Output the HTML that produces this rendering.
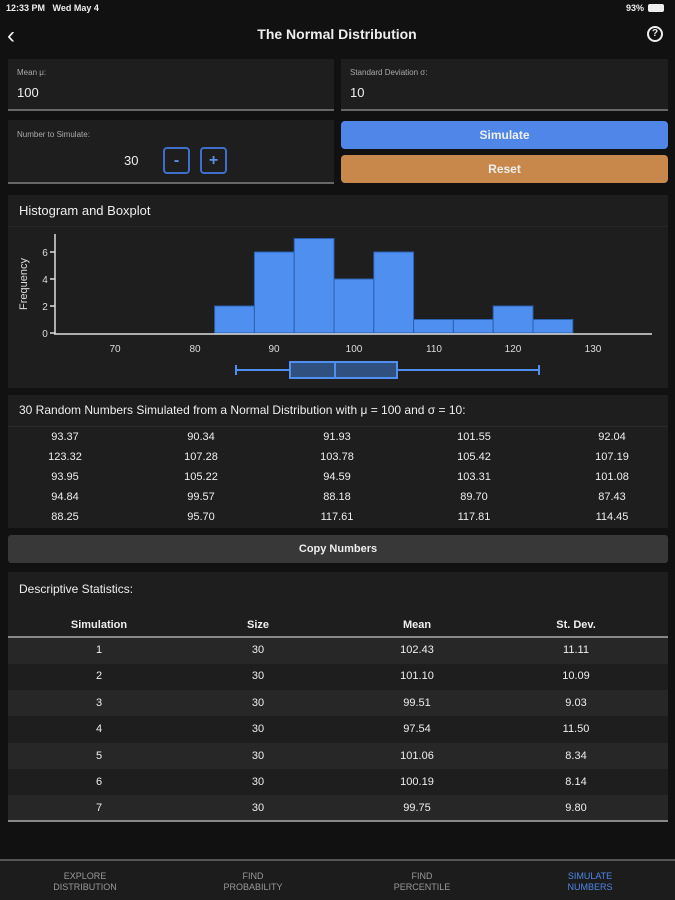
<!DOCTYPE html><html><head><meta charset="utf-8"><style>
*{margin:0;padding:0;box-sizing:border-box}
body{width:675px;height:900px;background:#111;font-family:"Liberation Sans",sans-serif;color:#eee;position:relative;overflow:hidden}
.a{position:absolute}
.card{position:absolute;background:#1e1e1e}
.c{position:absolute;text-align:center;transform:translateX(-50%);white-space:nowrap}
.sm{font-size:11px}
</style></head><body>
<div class="a" style="left:6px;top:3px;font-size:9px;font-weight:bold">12:33 PM&nbsp;&nbsp; Wed May 4</div>
<div class="a" style="left:626px;top:3px;font-size:9px;font-weight:bold">93%</div>
<div class="a" style="left:648px;top:4px;width:16px;height:8px;background:#eee;border-radius:2px"></div>
<div class="a" style="left:7px;top:22px;font-size:24px;color:#eee">‹</div>
<div class="c" style="left:337px;top:26px;font-size:14px;font-weight:bold">The Normal Distribution</div>
<div class="a" style="left:647px;top:26px;width:16px;height:16px;border:2px solid #eee;border-radius:50%;font-size:10px;font-weight:bold;text-align:center;line-height:12px">?</div>

<div class="card" style="left:8px;top:59px;width:326px;height:52px;border-bottom:2px solid #666"></div>
<div class="a" style="left:17px;top:68px;font-size:8px;color:#aaa">Mean μ:</div>
<div class="a" style="left:17px;top:85px;font-size:13px">100</div>
<div class="card" style="left:341px;top:59px;width:327px;height:52px;border-bottom:2px solid #666"></div>
<div class="a" style="left:350px;top:68px;font-size:8px;color:#aaa">Standard Deviation σ:</div>
<div class="a" style="left:350px;top:85px;font-size:13px">10</div>

<div class="card" style="left:8px;top:120px;width:326px;height:64px;border-bottom:2px solid #666"></div>
<div class="a" style="left:17px;top:130px;font-size:8px;color:#aaa">Number to Simulate:</div>
<div class="a" style="left:124px;top:153px;font-size:13px">30</div>
<div class="a" style="left:163px;top:147px;width:27px;height:27px;border:2px solid #3f6fc8;border-radius:4px;color:#5b8fe8;text-align:center;font-weight:bold;line-height:23px">-</div>
<div class="a" style="left:200px;top:147px;width:27px;height:27px;border:2px solid #3f6fc8;border-radius:4px;color:#5b8fe8;text-align:center;font-weight:bold;line-height:23px">+</div>
<div class="a" style="left:341px;top:121px;width:327px;height:28px;background:#4f86e8;border-radius:4px;text-align:center;line-height:28px;font-size:12px;font-weight:bold">Simulate</div>
<div class="a" style="left:341px;top:155px;width:327px;height:28px;background:#c8884b;border-radius:4px;text-align:center;line-height:28px;font-size:12px;font-weight:bold">Reset</div>

<div class="card" style="left:8px;top:195px;width:660px;height:193px"></div>
<div class="a" style="left:8px;top:226px;width:660px;height:1px;background:#262626"></div>
<div class="a" style="left:19px;top:203px;font-size:13px">Histogram and Boxplot</div>
<svg class="a" style="left:0;top:0" width="675" height="400">
<g fill="#4f8fef" stroke="#2b5fb0" stroke-width="1">
<rect x="214.6" y="306" width="39.8" height="27"/>
<rect x="254.4" y="252" width="39.8" height="81"/>
<rect x="294.2" y="238.5" width="39.8" height="94.5"/>
<rect x="334" y="279" width="39.8" height="54"/>
<rect x="373.8" y="252" width="39.8" height="81"/>
<rect x="413.6" y="319.5" width="39.8" height="13.5"/>
<rect x="453.4" y="319.5" width="39.8" height="13.5"/>
<rect x="493.2" y="306" width="39.8" height="27"/>
<rect x="533" y="319.5" width="39.8" height="13.5"/>
</g>
<g stroke="#ddd" stroke-width="1.5" fill="none">
<line x1="55" y1="234" x2="55" y2="334"/><line x1="54" y1="334" x2="652" y2="334"/>
<line x1="50" y1="333" x2="55" y2="333"/><line x1="50" y1="306" x2="55" y2="306"/><line x1="50" y1="279" x2="55" y2="279"/><line x1="50" y1="252" x2="55" y2="252"/>
</g>
<g fill="#ddd" font-size="10" font-family="Liberation Sans" text-anchor="middle">
<text x="45" y="337">0</text><text x="45" y="310">2</text><text x="45" y="283">4</text><text x="45" y="256">6</text>
<text x="115" y="352">70</text><text x="195" y="352">80</text><text x="274" y="352">90</text><text x="354" y="352">100</text><text x="434" y="352">110</text><text x="513" y="352">120</text><text x="593" y="352">130</text>
<text transform="translate(27,284) rotate(-90)" font-size="11">Frequency</text>
</g>
<g stroke="#4f8fef" stroke-width="2" fill="none">
<line x1="236" y1="370" x2="290" y2="370"/><line x1="397" y1="370" x2="539" y2="370"/>
<line x1="236" y1="365" x2="236" y2="375"/><line x1="539" y1="365" x2="539" y2="375"/>
<rect x="290" y="362" width="107" height="16" fill="#30507f"/>
<line x1="335" y1="362" x2="335" y2="378"/>
</g>
</svg>

<div class="card" style="left:8px;top:395px;width:660px;height:133px"></div>
<div class="a" style="left:8px;top:426px;width:660px;height:1px;background:#2a2a2a"></div>
<div class="a" style="left:19px;top:403px;font-size:12px">30 Random Numbers Simulated from a Normal Distribution with μ = 100 and σ = 10:</div>
<div class="sm">
<div class="c" style="left:65px;top:431px">93.37</div><div class="c" style="left:201px;top:431px">90.34</div><div class="c" style="left:337px;top:431px">91.93</div><div class="c" style="left:474px;top:431px">101.55</div><div class="c" style="left:612px;top:431px">92.04</div>
<div class="c" style="left:65px;top:451px">123.32</div><div class="c" style="left:201px;top:451px">107.28</div><div class="c" style="left:337px;top:451px">103.78</div><div class="c" style="left:474px;top:451px">105.42</div><div class="c" style="left:612px;top:451px">107.19</div>
<div class="c" style="left:65px;top:471px">93.95</div><div class="c" style="left:201px;top:471px">105.22</div><div class="c" style="left:337px;top:471px">94.59</div><div class="c" style="left:474px;top:471px">103.31</div><div class="c" style="left:612px;top:471px">101.08</div>
<div class="c" style="left:65px;top:491px">94.84</div><div class="c" style="left:201px;top:491px">99.57</div><div class="c" style="left:337px;top:491px">88.18</div><div class="c" style="left:474px;top:491px">89.70</div><div class="c" style="left:612px;top:491px">87.43</div>
<div class="c" style="left:65px;top:511px">88.25</div><div class="c" style="left:201px;top:511px">95.70</div><div class="c" style="left:337px;top:511px">117.61</div><div class="c" style="left:474px;top:511px">117.81</div><div class="c" style="left:612px;top:511px">114.45</div>
</div>

<div class="a" style="left:8px;top:535px;width:660px;height:28px;background:#383838;border-radius:3px;text-align:center;line-height:28px;font-size:11px;font-weight:bold">Copy Numbers</div>

<div class="card" style="left:8px;top:572px;width:660px;height:250px"></div>
<div class="a" style="left:19px;top:582px;font-size:12px">Descriptive Statistics:</div>
<div class="sm" style="font-weight:bold">
<div class="c" style="left:99px;top:619px">Simulation</div><div class="c" style="left:258px;top:619px">Size</div><div class="c" style="left:417px;top:619px">Mean</div><div class="c" style="left:576px;top:619px">St. Dev.</div>
</div>
<div class="a" style="left:8px;top:636px;width:660px;height:2px;background:#888"></div>
<div class="a" style="left:8px;top:638px;width:660px;height:26px;background:#272727"></div>
<div class="a" style="left:8px;top:690px;width:660px;height:26px;background:#272727"></div>
<div class="a" style="left:8px;top:743px;width:660px;height:26px;background:#272727"></div>
<div class="a" style="left:8px;top:795px;width:660px;height:26px;background:#272727"></div>
<div class="a" style="left:8px;top:820px;width:660px;height:2px;background:#888"></div>
<div class="sm">
<div class="c" style="left:99px;top:644px">1</div><div class="c" style="left:258px;top:644px">30</div><div class="c" style="left:417px;top:644px">102.43</div><div class="c" style="left:576px;top:644px">11.11</div>
<div class="c" style="left:99px;top:670px">2</div><div class="c" style="left:258px;top:670px">30</div><div class="c" style="left:417px;top:670px">101.10</div><div class="c" style="left:576px;top:670px">10.09</div>
<div class="c" style="left:99px;top:697px">3</div><div class="c" style="left:258px;top:697px">30</div><div class="c" style="left:417px;top:697px">99.51</div><div class="c" style="left:576px;top:697px">9.03</div>
<div class="c" style="left:99px;top:723px">4</div><div class="c" style="left:258px;top:723px">30</div><div class="c" style="left:417px;top:723px">97.54</div><div class="c" style="left:576px;top:723px">11.50</div>
<div class="c" style="left:99px;top:750px">5</div><div class="c" style="left:258px;top:750px">30</div><div class="c" style="left:417px;top:750px">101.06</div><div class="c" style="left:576px;top:750px">8.34</div>
<div class="c" style="left:99px;top:776px">6</div><div class="c" style="left:258px;top:776px">30</div><div class="c" style="left:417px;top:776px">100.19</div><div class="c" style="left:576px;top:776px">8.14</div>
<div class="c" style="left:99px;top:802px">7</div><div class="c" style="left:258px;top:802px">30</div><div class="c" style="left:417px;top:802px">99.75</div><div class="c" style="left:576px;top:802px">9.80</div>
</div>

<div class="a" style="left:0;top:859px;width:675px;height:41px;background:#1c1c1c;border-top:2px solid #555"></div>
<div style="font-size:9px;line-height:11px;color:#999">
<div class="c" style="left:85px;top:871px">EXPLORE<br>DISTRIBUTION</div>
<div class="c" style="left:253px;top:871px">FIND<br>PROBABILITY</div>
<div class="c" style="left:422px;top:871px">FIND<br>PERCENTILE</div>
<div class="c" style="left:590px;top:871px;color:#4f86e8">SIMULATE<br>NUMBERS</div>
</div>
</body></html>
